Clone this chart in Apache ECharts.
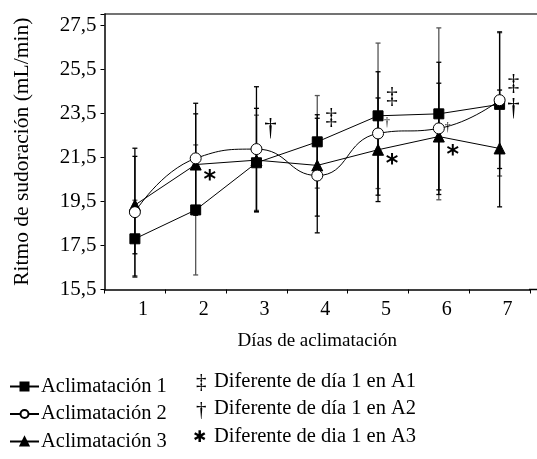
<!DOCTYPE html>
<html>
<head>
<meta charset="utf-8">
<script src="https://cdn.jsdelivr.net/npm/echarts@6/dist/echarts.min.js"></script>
<style>
html,body{margin:0;padding:0;background:#fff;}
#c{width:537px;height:459px;}
</style>
</head>
<body>
<div id="c"></div>
<script>
// ---- data ----
var days = ['1', '2', '3', '4', '5', '6', '7'];
var yTicks = [15.5, 17.5, 19.5, 21.5, 23.5, 25.5, 27.5];
var a1 = [17.8, 19.11, 21.25, 22.2, 23.38, 23.47, 23.9];
var a1Sd = [1.75, 2.95, 2.16, 2.1, 3.3, 3.9, 3.25];
var a2 = [19.01, 21.45, 21.87, 20.67, 22.58, 22.81, 24.09];
var a2Sd = [2.9, 2.5, 2.83, 2.6, 2.8, 3.0, 3.1];
var a3 = [19.33, 21.17, 21.37, 21.13, 21.84, 22.44, 21.9];
var a3Sd = [2.21, 2.3, 2.35, 2.3, 2.35, 2.42, 2.65];
var seriesNames = ['Aclimatación 1', 'Aclimatación 2', 'Aclimatación 3'];
// significance annotations (day index, value, glyph)
var annDay = [1, 2, 3, 4, 4, 4, 5, 5, 6, 6];
var annValue = [20.6, 22.82, 23.28, 24.23, 23.05, 21.32, 22.82, 21.73, 24.82, 23.73];
var annText = ['*', '†', '‡', '‡', '†', '*', '†', '*', '‡', '†'];
var annBig = [true, true, true, true, false, true, false, true, true, true];
var noteSymbols = ['‡', '†', '✱'];
var noteTexts = ['Diferente de día 1 en A1', 'Diferente de día 1 en A2', 'Diferente de dia 1 en A3'];

// ---- chart ----
var FONT = 'Liberation Serif';
var chart = echarts.init(document.getElementById('c'), null, {renderer: 'canvas'});
var G = {left: 104.5, top: 14, right: 7, bottom: 169.5};

function errData(m, sd) {
  return m.map(function (v, i) { return [i, v - sd[i], v + sd[i]]; });
}
function errSeries(m, sd, color) {
  return {
    type: 'custom',
    z: 1,
    silent: true,
    data: errData(m, sd),
    encode: {x: 0, y: [1, 2]},
    renderItem: function (params, api) {
      var i = api.value(0);
      var lo = api.coord([i, api.value(1)]);
      var hi = api.coord([i, api.value(2)]);
      var w = 2.5;
      var st = {stroke: color, lineWidth: 1.3};
      return {
        type: 'group',
        children: [
          {type: 'line', shape: {x1: hi[0], y1: hi[1], x2: lo[0], y2: lo[1]}, style: st},
          {type: 'line', shape: {x1: hi[0] - w, y1: hi[1], x2: hi[0] + w, y2: hi[1]}, style: st},
          {type: 'line', shape: {x1: lo[0] - w, y1: lo[1], x2: lo[0] + w, y2: lo[1]}, style: st}
        ]
      };
    }
  };
}

var annData = annDay.map(function (d, i) {
  var big = annBig[i];
  var t = annText[i];
  var isStar = t === '*';
  return {
    value: [d, annValue[i]],
    label: {
      show: true,
      position: 'inside',
      formatter: t,
      color: '#000',
      opacity: 1,
      textBorderWidth: 0,
      fontSize: big ? (isStar ? 24 : (t === '‡' ? 23 : 25)) : 12,
      fontWeight: isStar ? 'bold' : 'normal',
      fontFamily: isStar ? 'DejaVu Sans' : FONT,
      offset: [big ? 14 : 9, isStar ? 4 : 0]
    }
  };
});

var lineCommon = {
  type: 'line',
  z: 3,
  lineStyle: {color: '#000', width: 1},
  itemStyle: {color: '#000', borderColor: '#000', borderWidth: 1},
  emphasis: {disabled: true}
};

var option = {
  animation: false,
  backgroundColor: '#fff',
  grid: G,
  xAxis: {
    type: 'category',
    data: days,
    boundaryGap: true,
    name: 'Días de aclimatación',
    nameLocation: 'middle',
    nameGap: 42,
    nameTextStyle: {fontFamily: FONT, fontSize: 19, color: '#000'},
    axisLine: {lineStyle: {color: '#000', width: 1.5}},
    axisTick: {show: true, inside: false, length: 4, alignWithLabel: false, lineStyle: {color: '#000'}},
    axisLabel: {fontFamily: FONT, fontSize: 20, color: '#000', margin: 10, padding: [0, 0, 0, 16]},
    splitLine: {show: false}
  },
  yAxis: {
    type: 'value',
    min: yTicks[0],
    max: 28,
    interval: 2,
    name: 'Ritmo de sudoración (mL/min)',
    nameLocation: 'middle',
    nameGap: 71,
    nameTextStyle: {fontFamily: FONT, fontSize: 21.5, color: '#000'},
    axisLine: {show: true, lineStyle: {color: '#000', width: 1.5}},
    axisTick: {show: true, inside: false, length: 4, lineStyle: {color: '#000'}},
    axisLabel: {
      fontFamily: FONT, fontSize: 21, color: '#000', margin: 8,
      formatter: function (v) { return yTicks.indexOf(v) >= 0 ? v.toFixed(1).replace('.', ',') : ''; }
    },
    splitLine: {show: false}
  },
  legend: {
    orient: 'vertical',
    left: 4,
    top: 371,
    itemWidth: 29,
    itemHeight: 10,
    itemGap: 6.5,
    data: seriesNames,
    textStyle: {fontFamily: FONT, fontSize: 20.5, color: '#000', padding: [0, 0, 0, -3]},
    selectedMode: false
  },
  graphic: [
    {type: 'line', shape: {x1: G.left, y1: G.top, x2: 537, y2: G.top}, style: {stroke: '#444', lineWidth: 1.5}, silent: true},
    {type: 'line', shape: {x1: 529, y1: 459 - G.bottom, x2: 537, y2: 459 - G.bottom}, style: {stroke: '#000', lineWidth: 1.5}, silent: true}
  ].concat(noteSymbols.map(function (s, i) {
    return {type: 'text', left: i === 2 ? 193 : 196, top: 372 + i * 27.5 + (i === 2 ? 3 : 0),
      style: {text: s, fontFamily: i === 2 ? 'DejaVu Sans' : FONT, fontSize: i === 2 ? 16 : 21, fill: '#000'}};
  })).concat(noteTexts.map(function (t, i) {
    return {type: 'text', left: 214, top: 371 + i * 27.5,
      style: {text: t, fontFamily: FONT, fontSize: 20.5, fill: '#000'}};
  })),
  series: [
    errSeries(a1, a1Sd, '#555'),
    errSeries(a2, a2Sd, '#000'),
    errSeries(a3, a3Sd, '#000'),
    Object.assign({}, lineCommon, {
      name: seriesNames[0], data: a1, symbol: 'rect', symbolSize: 10, z: 4
    }),
    Object.assign({}, lineCommon, {
      name: seriesNames[1], data: a2, symbol: 'circle', symbolSize: 11, smooth: 0.5, z: 5,
      itemStyle: {color: '#fff', borderColor: '#000', borderWidth: 1}
    }),
    Object.assign({}, lineCommon, {
      name: seriesNames[2], data: a3, symbol: 'triangle', symbolSize: 11, z: 3
    }),
    {
      type: 'scatter',
      z: 6,
      silent: true,
      symbolSize: 0,
      itemStyle: {color: '#000'},
      emphasis: {disabled: true},
      data: annData
    }
  ]
};
chart.setOption(option);
</script>
</body>
</html>
